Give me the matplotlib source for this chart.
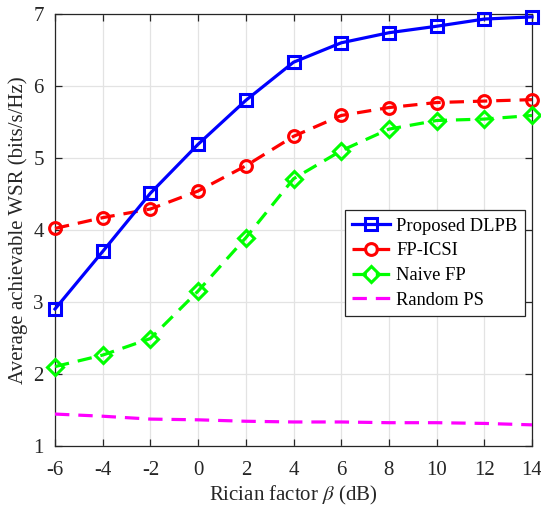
import matplotlib
matplotlib.use("Agg")
import matplotlib.pyplot as plt

plt.rcParams['font.family'] = ['Liberation Serif', 'DejaVu Serif']
plt.rcParams['mathtext.fontset'] = 'stix'
plt.rcParams['axes.unicode_minus'] = False

beta_db = [-6, -4, -2, 0, 2, 4, 6, 8, 10, 12, 14]
proposed_dlpb = [2.90, 3.70, 4.51, 5.19, 5.80, 6.33, 6.60, 6.74, 6.83, 6.93, 6.96]
fp_icsi = [4.02, 4.17, 4.29, 4.54, 4.89, 5.30, 5.59, 5.70, 5.77, 5.79, 5.81]
naive_fp = [2.10, 2.26, 2.49, 3.15, 3.89, 4.71, 5.10, 5.40, 5.52, 5.54, 5.59]
random_ps = [1.44, 1.41, 1.37, 1.36, 1.34, 1.33, 1.33, 1.32, 1.32, 1.31, 1.29]

xticks = [-6, -4, -2, 0, 2, 4, 6, 8, 10, 12, 14]
yticks = [1, 2, 3, 4, 5, 6, 7]

fig = plt.figure(figsize=(5.41, 5.08), dpi=100)
ax = fig.add_axes([0.1017, 0.1226, 0.8817, 0.8498])

lw = 2.3
dash = (0, (4.5, 2.8))
ax.plot(beta_db, proposed_dlpb, color='#0000ff', lw=lw, marker='s', ms=8,
        mfc='none', mew=2.2, label='Proposed DLPB', zorder=5, clip_on=False)
ax.plot(beta_db, fp_icsi, color='#ff0000', lw=lw, ls=dash, marker='o', ms=8.5,
        mfc='none', mew=2.2, label='FP-ICSI', zorder=4, clip_on=False)
ax.plot(beta_db, naive_fp, color='#00ff00', lw=lw, ls=dash, marker='D', ms=8.5,
        mfc='none', mew=2.2, label='Naive FP', zorder=4, clip_on=False)
ax.plot(beta_db, random_ps, color='#ff00ff', lw=lw, ls=dash,
        label='Random PS', zorder=3)

ax.set_xlim(-6, 14)
ax.set_ylim(1, 7)
ax.set_xticks(xticks)
ax.set_yticks(yticks)
ax.grid(True, color='#e3e3e3', lw=0.9)
ax.set_axisbelow(True)

for s in ax.spines.values():
    s.set_color('#262626')
    s.set_linewidth(0.9)
ax.tick_params(direction='in', top=True, right=True, length=5, width=0.9,
               colors='#262626', labelsize=15)
ax.tick_params(axis='x', pad=11)
ax.tick_params(axis='y', pad=8)

ax.set_xlabel(r'Rician factor $\beta$ (dB)', fontsize=15, color='#262626', labelpad=3)
ax.set_ylabel('Average achievable WSR (bits/s/Hz)', fontsize=15, color='#262626', labelpad=4)

leg = ax.legend(loc='lower right', bbox_to_anchor=(0.9853, 0.300), fontsize=13.3,
                frameon=True, fancybox=False, handlelength=2.05, handletextpad=0.35,
                borderpad=0.4, labelspacing=0.42, borderaxespad=0.0)
leg.get_frame().set_edgecolor('#262626')
leg.get_frame().set_linewidth(0.9)
leg.get_frame().set_alpha(1)

fig.savefig('out.png', dpi=100)
